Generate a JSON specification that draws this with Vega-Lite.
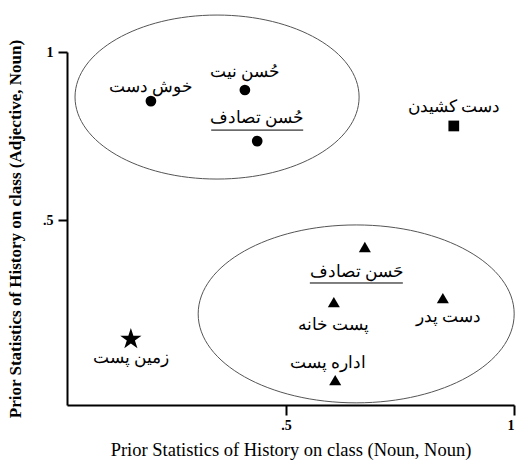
{
  "$schema": "https://vega.github.io/schema/vega-lite/v6.json",
  "width": 447,
  "height": 353,
  "autosize": {"type": "none"},
  "padding": {"left": 67, "top": 52, "right": 2, "bottom": 57},
  "background": "white",
  "config": {"view": {"stroke": null}, "font": "Liberation Serif"},
  "resolve": {"scale": {"shape": "independent"}},
  "datasets": {
    "points": [
      {"name": "خوش دست", "type": "circle", "x": 0.204, "y": 0.854},
      {"name": "حُسن نیت", "type": "circle", "x": 0.410, "y": 0.887},
      {"name": "حُسن تصادف", "type": "circle", "x": 0.437, "y": 0.735},
      {"name": "دست کشیدن", "type": "square", "x": 0.868, "y": 0.780},
      {"name": "زمین پست", "type": "star", "x": 0.160, "y": 0.146},
      {"name": "حَسن تصادف", "type": "triangle", "x": 0.673, "y": 0.420},
      {"name": "پست خانه", "type": "triangle", "x": 0.605, "y": 0.256},
      {"name": "دست پدر", "type": "triangle", "x": 0.844, "y": 0.268},
      {"name": "اداره پست", "type": "triangle", "x": 0.608, "y": 0.024}
    ],
    "groups": [
      {"group": "Adjective-Noun", "x": 0.349, "y": 0.866},
      {"group": "Noun-Noun", "x": 0.654, "y": 0.221}
    ]
  },
  "encoding": {
    "x": {
      "field": "x", "type": "quantitative",
      "scale": {"domain": [0.02, 1], "nice": false, "zero": false},
      "axis": {
        "title": "Prior Statistics of History on class (Noun, Noun)",
        "values": [0.5, 1],
        "labelExpr": "datum.value == 1 ? '1' : '.5'",
        "grid": false, "domainColor": "black", "domainWidth": 2,
        "tickColor": "black", "tickWidth": 2, "tickSize": 10,
        "labelFont": "Liberation Serif", "labelFontWeight": "bold", "labelFontSize": 14, "labelColor": "black",
        "labelPadding": 3,
        "titleFont": "Liberation Serif", "titleFontWeight": "normal", "titleFontSize": 18.5, "titleColor": "black",
        "titlePadding": 8
      }
    },
    "y": {
      "field": "y", "type": "quantitative",
      "scale": {"domain": [-0.05, 1], "nice": false, "zero": false},
      "axis": {
        "title": "Prior Statistics of History on class (Adjective, Noun)",
        "values": [0.5, 1],
        "labelExpr": "datum.value == 1 ? '1' : '.5'",
        "grid": false, "domainColor": "black", "domainWidth": 2,
        "tickColor": "black", "tickWidth": 2, "tickSize": 9,
        "labelFont": "Liberation Serif", "labelFontWeight": "bold", "labelFontSize": 14, "labelColor": "black",
        "labelPadding": 5,
        "titleFont": "Liberation Serif", "titleFontWeight": "bold", "titleFontSize": 17, "titleColor": "black",
        "titlePadding": 18
      }
    }
  },
  "layer": [
    {
      "mark": {"type": "rule", "color": "black", "strokeWidth": 2, "clip": false},
      "encoding": {"x": {"datum": 0.02}, "y": {"datum": -0.05}, "y2": {"datum": -0.124}}
    },
    {
      "mark": {"type": "rule", "color": "black", "strokeWidth": 2, "clip": false},
      "encoding": {"x": {"datum": 0.004}, "x2": {"datum": 0.02}, "y": {"datum": -0.05}}
    },
    {
      "data": {"name": "groups"},
      "mark": {"type": "point", "filled": false, "stroke": "#555555", "strokeWidth": 1, "size": 99856, "opacity": 1, "clip": false},
      "encoding": {
        "shape": {
          "field": "group", "type": "nominal", "legend": null,
          "scale": {
            "domain": ["Adjective-Noun", "Noun-Noun"],
            "range": [
              "M -0.899 0 A 0.899 0.519 0 1 0 0.899 0 A 0.899 0.519 0 1 0 -0.899 0 Z",
              "M -1 0 A 1 0.563 0 1 0 1 0 A 1 0.563 0 1 0 -1 0 Z"
            ]
          }
        }
      }
    },
    {
      "data": {"name": "points"},
      "transform": [{"filter": "datum.type == 'circle' || datum.type == 'square'"}],
      "mark": {"type": "point", "filled": true, "color": "black", "opacity": 1, "size": 115},
      "encoding": {
        "shape": {
          "field": "type", "type": "nominal", "legend": null,
          "scale": {"domain": ["circle", "square"], "range": ["circle", "square"]}
        }
      }
    },
    {
      "data": {"name": "points"},
      "transform": [{"filter": "datum.type == 'triangle'"}],
      "mark": {"type": "point", "filled": true, "color": "black", "opacity": 1, "size": 145, "shape": "triangle-up"},
      "encoding": {}
    },
    {
      "data": {"name": "points"},
      "transform": [{"filter": "datum.type == 'star'"}],
      "mark": {"type": "point", "filled": true, "color": "black", "opacity": 1, "size": 500,
        "shape": "M 0 -1 L 0.225 -0.309 L 0.951 -0.309 L 0.363 0.118 L 0.588 0.809 L 0 0.382 L -0.588 0.809 L -0.363 0.118 L -0.951 -0.309 L -0.225 -0.309 Z"},
      "encoding": {}
    },
    {
      "data": {"name": "points"},
      "transform": [{"filter": "datum.name == 'خوش دست'"}],
      "mark": {"type": "text", "fontSize": 16.5, "color": "black", "align": "center", "baseline": "middle", "dy": -14},
      "encoding": {"text": {"field": "name"}}
    },
    {
      "data": {"name": "points"},
      "transform": [{"filter": "datum.name == 'حُسن نیت'"}],
      "mark": {"type": "text", "fontSize": 16.5, "color": "black", "align": "center", "baseline": "middle", "dy": -18},
      "encoding": {"text": {"field": "name"}}
    },
    {
      "data": {"name": "points"},
      "transform": [{"filter": "datum.name == 'حُسن تصادف'"}],
      "mark": {"type": "text", "fontSize": 16.5, "color": "black", "align": "center", "baseline": "middle", "dy": -23},
      "encoding": {"text": {"field": "name"}}
    },
    {
      "data": {"name": "points"},
      "transform": [{"filter": "datum.name == 'دست کشیدن'"}],
      "mark": {"type": "text", "fontSize": 16.5, "color": "black", "align": "center", "baseline": "middle", "dy": -19},
      "encoding": {"text": {"field": "name"}}
    },
    {
      "data": {"name": "points"},
      "transform": [{"filter": "datum.name == 'زمین پست'"}],
      "mark": {"type": "text", "fontSize": 16.5, "color": "black", "align": "center", "baseline": "middle", "dy": 19},
      "encoding": {"text": {"field": "name"}}
    },
    {
      "data": {"name": "points"},
      "transform": [{"filter": "datum.name == 'حَسن تصادف'"}],
      "mark": {"type": "text", "fontSize": 16.5, "color": "black", "align": "center", "baseline": "middle", "dy": 25, "dx": -8},
      "encoding": {"text": {"field": "name"}}
    },
    {
      "data": {"name": "points"},
      "transform": [{"filter": "datum.name == 'پست خانه'"}],
      "mark": {"type": "text", "fontSize": 16.5, "color": "black", "align": "center", "baseline": "middle", "dy": 23},
      "encoding": {"text": {"field": "name"}}
    },
    {
      "data": {"name": "points"},
      "transform": [{"filter": "datum.name == 'دست پدر'"}],
      "mark": {"type": "text", "fontSize": 16.5, "color": "black", "align": "center", "baseline": "middle", "dy": 19, "dx": 6},
      "encoding": {"text": {"field": "name"}}
    },
    {
      "data": {"name": "points"},
      "transform": [{"filter": "datum.name == 'اداره پست'"}],
      "mark": {"type": "text", "fontSize": 16.5, "color": "black", "align": "center", "baseline": "middle", "dy": -17, "dx": -7},
      "encoding": {"text": {"field": "name"}}
    },
    {
      "data": {"name": "points"},
      "transform": [{"filter": "datum.name == 'حُسن تصادف'"}],
      "mark": {"type": "rule", "color": "black", "strokeWidth": 1, "xOffset": -46, "x2Offset": 46, "yOffset": -11, "y2Offset": -11},
      "encoding": {"x2": {"field": "x"}, "y2": {"field": "y"}}
    },
    {
      "data": {"name": "points"},
      "transform": [{"filter": "datum.name == 'حَسن تصادف'"}],
      "mark": {"type": "rule", "color": "black", "strokeWidth": 1, "xOffset": -55, "x2Offset": 38, "yOffset": 36, "y2Offset": 36},
      "encoding": {"x2": {"field": "x"}, "y2": {"field": "y"}}
    }
  ]
}
